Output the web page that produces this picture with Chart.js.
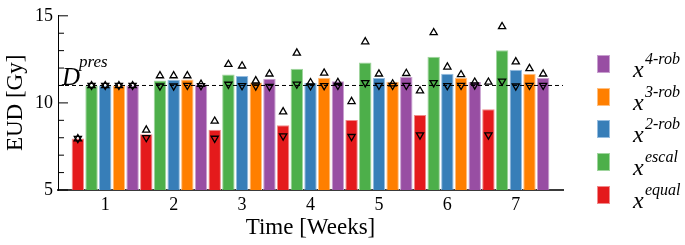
<!DOCTYPE html>
<html>
<head>
<meta charset="utf-8">
<script src="https://cdn.jsdelivr.net/npm/chart.js@4"></script>
<style>
	body { margin: 0; background: #fff; }
	#wrap { position: relative; width: 685px; height: 245px; }
	#legend { position: absolute; left: 597px; top: 55px; font-family: "Liberation Serif", serif; font-style: italic; color: #000; }
	.item { position: absolute; left: 0; width: 88px; height: 30px; }
	.box { position: absolute; left: 0; top: 0; width: 13px; height: 18px; }
	.x { position: absolute; left: 36px; top: 2px; font-size: 24px; line-height: 24px; }
	.sup { position: absolute; left: 48px; top: -4px; font-size: 16px; line-height: 16px; white-space: nowrap; }
</style>
</head>
<body>
<div id="wrap">
	<canvas id="eudChart"></canvas>
	<div id="legend"></div>
</div>
<script>
"use strict";

// Weeks on the x axis
const weeks = [1, 2, 3, 4, 5, 6, 7];

// Bar heights (EUD in Gy) for each strategy
const equalEud = [7.95, 8.2, 8.46, 8.72, 9.02, 9.31, 9.63];
const escalEud = [10.98, 11.29, 11.63, 11.96, 12.32, 12.65, 13.02];
const rob2Eud = [11.0, 11.33, 11.54, 11.15, 11.43, 11.68, 11.91];
const rob3Eud = [11.0, 11.35, 11.17, 11.44, 11.22, 11.44, 11.68];
const rob4Eud = [11.0, 11.06, 11.39, 11.24, 11.48, 11.2, 11.43];

// Upper markers (up triangles)
const equalUpper = [7.95, 8.45, 8.96, 9.5, 10.09, 10.7, 11.2];
const escalUpper = [11.0, 11.57, 12.22, 12.87, 13.52, 14.04, 14.39];
const rob2Upper = [11.0, 11.57, 12.13, 11.17, 11.67, 12.07, 12.37];
const rob3Upper = [11.0, 11.57, 11.28, 11.72, 11.1, 11.63, 11.98];
const rob4Upper = [11.0, 11.08, 11.67, 11.18, 11.7, 11.2, 11.67];

// Lower markers (down triangles)
const equalLower = [7.95, 8.0, 7.96, 8.09, 8.06, 8.15, 8.15];
const escalLower = [11.0, 10.96, 11.06, 11.07, 11.15, 11.15, 11.24];
const rob2Lower = [11.0, 10.96, 10.98, 10.97, 11.0, 10.98, 10.96];
const rob3Lower = [11.0, 11.0, 10.96, 10.98, 11.0, 11.0, 11.0];
const rob4Lower = [11.0, 10.98, 10.93, 11.0, 11.0, 11.02, 11.0];

// Prescribed dose line
const dPres = 11;

// Series names and colours
const seriesNames = ["equal", "escal", "2-rob", "3-rob", "4-rob"];
const seriesColors = ["#e41a1c", "#4daf4a", "#377eb8", "#ff7f00", "#984ea3"];
const seriesEdges = ["#f08a8b", "#a0d59e", "#96bde0", "#ffbf80", "#c8a0cf"];

// Axis ticks
const yTickLabels = [5, 10, 15];

const barValues = [equalEud, escalEud, rob2Eud, rob3Eud, rob4Eud];
const upperValues = [equalUpper, escalUpper, rob2Upper, rob3Upper, rob4Upper];
const lowerValues = [equalLower, escalLower, rob2Lower, rob3Lower, rob4Lower];

const serif = "'Liberation Serif', 'Times New Roman', serif";

function drawTriangle(ctx, x, y, down) {
	const s = down ? -1 : 1;
	ctx.beginPath();
	ctx.moveTo(x, y - 4 * s);
	ctx.lineTo(x - 3.6, y + 2.2 * s);
	ctx.lineTo(x + 3.6, y + 2.2 * s);
	ctx.closePath();
	ctx.stroke();
}

// Draws the dashed line, the triangle markers, the D^pres label and the inward y ticks
const extrasPlugin = {
	id: "extras",
	afterDatasetsDraw(chart) {
		const ctx = chart.ctx;
		const area = chart.chartArea;
		const yScale = chart.scales.y;

		ctx.save();
		const yLine = yScale.getPixelForValue(dPres);
		ctx.strokeStyle = "#000";
		ctx.lineWidth = 1;
		ctx.setLineDash([4, 3]);
		ctx.beginPath();
		ctx.moveTo(area.left, yLine);
		ctx.lineTo(area.right, yLine);
		ctx.stroke();
		ctx.setLineDash([]);

		ctx.lineWidth = 1.3;
		barValues.forEach(function (vals, d) {
			const meta = chart.getDatasetMeta(d);
			meta.data.forEach(function (bar, i) {
				drawTriangle(ctx, bar.x, yScale.getPixelForValue(upperValues[d][i]), false);
				drawTriangle(ctx, bar.x, yScale.getPixelForValue(lowerValues[d][i]), true);
			});
		});

		// D^pres label
		ctx.fillStyle = "#000";
		ctx.textBaseline = "alphabetic";
		ctx.font = "italic 25px " + serif;
		ctx.fillText("D", area.left + 4, yLine);
		ctx.font = "italic 17px " + serif;
		ctx.fillText("pres", area.left + 21, yLine - 18);

		// inward tick marks on the y axis
		ctx.lineWidth = 1;
		for (let v = yScale.min; v <= yScale.max; v++) {
			const py = yScale.getPixelForValue(v);
			const len = yTickLabels.includes(v) ? 10 : 6;
			ctx.beginPath();
			ctx.moveTo(area.left, py);
			ctx.lineTo(area.left + len, py);
			ctx.stroke();
		}
		ctx.restore();
	},
};

function buildLegend() {
	const legend = document.getElementById("legend");
	for (let k = seriesNames.length - 1, row = 0; k >= 0; k--, row++) {
		const item = document.createElement("div");
		item.className = "item";
		item.style.top = (row * 32.7) + "px";
		item.innerHTML = '<span class="box" style="background:' + seriesColors[k] + ';border:1px solid ' + seriesEdges[k] + ';box-sizing:border-box"></span>' +
			'<span class="x">x</span><span class="sup">' + seriesNames[k] + "</span>";
		legend.appendChild(item);
	}
}

function generateBarChart() {
	const ctx = document.getElementById("eudChart");

	const datasets = barValues.map(function (vals, d) {
		return {
			label: seriesNames[d],
			data: weeks.map(function (w, i) { return { x: w, y: vals[i] }; }),
			backgroundColor: seriesColors[d],
			borderColor: seriesEdges[d],
			borderWidth: 1,
			categoryPercentage: 1,
			barPercentage: 0.91,
		};
	});

	new Chart(ctx, {
		type: "bar",
		data: { datasets: datasets },
		options: {
			responsive: true,
			maintainAspectRatio: false,
			animation: false,
			layout: { padding: { top: 10, right: 122, left: 0, bottom: 0 } },
			plugins: {
				legend: { display: false },
				tooltip: { enabled: false },
			},
			scales: {
				x: {
					type: "linear",
					min: 0.31,
					max: 7.69,
					offset: false,
					afterBuildTicks(scale) {
						scale.ticks = weeks.map(function (w) { return { value: w }; });
					},
					afterFit(scale) { scale.height = 55; },
					grid: { display: true, drawOnChartArea: false, drawTicks: false, offset: false },
					border: { display: true, color: "#3a3a3a", width: 2 },
					ticks: {
						padding: 4,
						color: "#000",
						font: { family: serif, size: 18 },
						maxRotation: 0,
						autoSkip: false,
						callback: function (v) { return v; },
					},
					title: {
						display: true,
						text: "Time [Weeks]",
						color: "#000",
						font: { family: serif, size: 23 },
						padding: { top: 0, bottom: 3 },
					},
				},
				y: {
					min: 5,
					max: 15,
					afterFit(scale) { scale.width = 58; },
					grid: { display: true, drawOnChartArea: false, drawTicks: false },
					border: { display: true, color: "#000", width: 1 },
					ticks: {
						stepSize: 1,
						padding: 5,
						color: "#000",
						font: { family: serif, size: 18 },
						autoSkip: false,
						callback: function (v) { return yTickLabels.includes(v) ? v : ""; },
					},
					title: {
						display: true,
						text: "EUD [Gy]",
						color: "#000",
						font: { family: serif, size: 23 },
						padding: { top: 2, bottom: 0 },
					},
				},
			},
		},
		plugins: [extrasPlugin],
	});
}

buildLegend();
generateBarChart();
</script>
</body>
</html>
